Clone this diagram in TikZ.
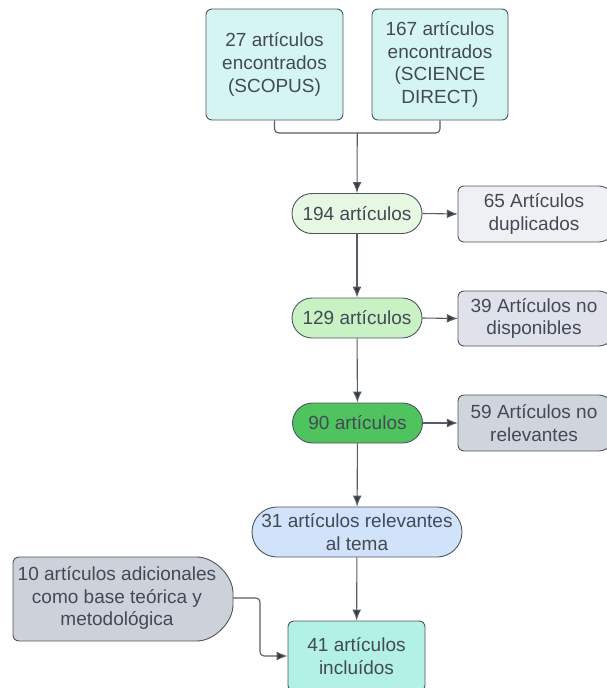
\documentclass[tikz,border=0pt]{standalone}
\usepackage{fontspec}
\setmainfont{Liberation Sans}
\usetikzlibrary{arrows.meta}
\definecolor{txt}{HTML}{434A55}
\definecolor{edge}{HTML}{4F555E}
\definecolor{conn}{HTML}{575D66}
\definecolor{tip}{HTML}{363B42}
\definecolor{cyanbox}{HTML}{D4F5F2}
\definecolor{g1}{HTML}{E6F8E1}
\definecolor{g2}{HTML}{C8F1C4}
\definecolor{g3}{HTML}{4FC35D}
\definecolor{gr1}{HTML}{EEF0F4}
\definecolor{gr2}{HTML}{DFE2EA}
\definecolor{gr3}{HTML}{D0D4DC}
\definecolor{gr4}{HTML}{CDD1D9}
\definecolor{bluebox}{HTML}{D0E3FB}
\definecolor{mint}{HTML}{B2F1E4}
\begin{document}
\begin{tikzpicture}[x=1pt,y=-1pt,
  every node/.style={font=\fontsize{19}{22.7}\selectfont, text=txt, align=center, inner sep=0pt},
  sq/.style={draw=edge, line width=0.9pt, rounded corners=6pt, minimum width=#1},
  pill/.style={draw=edge, line width=0.9pt, rounded corners=20pt, minimum height=40pt, minimum width=130pt},
  shp/.style={draw=edge, line width=0.9pt, rounded corners=6pt},
  conline/.style={draw=conn, line width=1.1pt},
  arr/.style={conline, -{Latex[length=11pt,width=9pt,fill=tip]}}
]
\useasboundingbox (0,0) rectangle (607,688);
\clip (0,0) rectangle (607,688);

% top boxes
\node[sq=137pt, minimum height=111pt, fill=cyanbox] (b1) at (274.5,64.5) {27 artículos\\encontrados\\(SCOPUS)};
\node[sq=136pt, minimum height=111pt, fill=cyanbox] (b2) at (440,64.5) {167 artículos\\encontrados\\(SCIENCE\\DIRECT)};

% pills
\node[pill, fill=g1] (n194) at (357,213.5) {194 artículos};
\node[pill, fill=g2] (n129) at (357,318) {129 artículos};
\node[pill, fill=g3] (n90) at (357.5,423) {90 artículos};
\node[draw=edge, line width=0.9pt, rounded corners=25pt, minimum height=50pt, minimum width=210pt, fill=bluebox] (n31) at (357,532) {31 artículos relevantes\\al tema};
\node[sq=137pt, minimum height=70pt, fill=mint] (n41) at (356.5,656) {41 artículos\\incluídos};

% right side shapes (D-shaped, clipped at the edge)
\draw[shp, fill=gr1] (593,186) .. controls (608.5,186) and (621,198.5) .. (621,214) .. controls (621,229.5) and (608.5,242) .. (593,242) -- (458,242) -- (458,186) -- cycle;
\draw[shp, fill=gr2] (593,291) .. controls (608.5,291) and (621,303.5) .. (621,318.5) .. controls (621,333.5) and (608.5,346) .. (593,346) -- (458,346) -- (458,291) -- cycle;
\draw[shp, fill=gr3] (593,395) .. controls (608.5,395) and (621,407.5) .. (621,423) .. controls (621,438.5) and (608.5,451) .. (593,451) -- (458,451) -- (458,395) -- cycle;
\node[minimum width=152pt, minimum height=56pt] (d65) at (534,214) {65 Artículos\\duplicados};
\node[minimum width=152pt, minimum height=56pt] (d39) at (534,318.5) {39 Artículos no\\disponibles};
\node[minimum width=152pt, minimum height=56pt] (d59) at (534,423) {59 Artículos no\\relevantes};

% left D-shape
\draw[shp, fill=gr4] (191,557) .. controls (214.2,557) and (233,575.8) .. (233,599) .. controls (233,622.2) and (214.2,641) .. (191,641) -- (13,641) -- (13,557) -- cycle;
\node (t10) at (117,598) {10 artículos adicionales\\como base teórica y\\metodológica};
\coordinate (c10) at (233,598);

% connectors
\coordinate (j) at (357.25,133);
\draw[conline, rounded corners=4pt] (b1.south) |- (j) -| (b2.south);
\draw[arr] (j) -- (n194.north);
\draw[arr] (n194) -- (n129);
\draw[arr] (n129) -- (n90);
\draw[arr] (n90) -- (n31);
\draw[arr] (n31) -- (n41);
\draw[arr] (n194.east) -- (d65.west);
\draw[arr] (n129.east) -- (d39.west);
\draw[arr] (n90.east) -- (d59.west);
\draw[arr, rounded corners=4pt] (c10) -- (260,598) |- (n41.west);
\end{tikzpicture}
\end{document}
